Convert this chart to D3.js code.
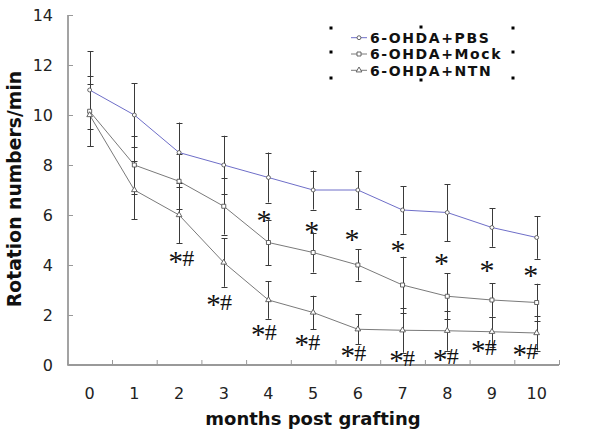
<!DOCTYPE html>
<html><head><meta charset="utf-8">
<script src="https://cdn.jsdelivr.net/npm/d3@7"></script>
<style>html,body{margin:0;padding:0;background:#fff;}svg{display:block;}</style>
</head><body>
<div id="chart"></div>
<script>
const months = [0,1,2,3,4,5,6,7,8,9,10];
const seriesNames = ["6-OHDA+PBS","6-OHDA+Mock","6-OHDA+NTN"];
const pbs    = [11.0, 10.0, 8.5, 8.0, 7.5, 7.0, 7.0, 6.2, 6.1, 5.5, 5.1];
const pbsErr = [1.55, 1.27, 1.2, 1.17, 1.0, 0.78, 0.75, 0.95, 1.14, 0.77, 0.85];
const mock    = [10.15, 8.0, 7.35, 6.35, 4.9, 4.5, 4.0, 3.2, 2.75, 2.6, 2.5];
const mockErr = [1.4, 1.17, 1.1, 1.13, 0.9, 0.8, 0.62, 1.13, 0.92, 0.67, 0.75];
const ntn    = [10.0, 7.0, 6.0, 4.1, 2.6, 2.1, 1.43, 1.39, 1.37, 1.33, 1.28];
const ntnErr = [1.23, 1.17, 1.13, 0.97, 0.75, 0.67, 0.6, 0.9, 0.8, 0.6, 0.7];
const yTicks = [0,2,4,6,8,10,12,14];
// significance marks: month position, value position
const starMonth = [3.9, 4.97, 5.87, 6.9, 7.87, 8.89, 9.87];
const starValue = [6.0, 5.56, 5.24, 4.8, 4.28, 4.0, 3.8];
const hashMonth = [2.08, 2.93, 3.93, 4.9, 5.93, 7.02, 8.0, 8.85, 9.78];
const hashValue = [4.28, 2.53, 1.33, 0.93, 0.5, 0.3, 0.36, 0.72, 0.55];

const W = 600, H = 438;
const svg = d3.select("#chart").append("svg").attr("width", W).attr("height", H);
const x = d3.scaleLinear().domain([-0.5, 10.5]).range([67.3, 559]);
const y = d3.scaleLinear().domain([0, 14]).range([365, 15]);

// axes
const yAxis = svg.append("g").attr("transform", "translate(68,0)")
  .call(d3.axisRight(y).tickValues(yTicks).tickSize(5).tickFormat(""));
yAxis.select(".domain").attr("stroke", "#999").attr("stroke-width", 1.8).attr("d", `M0,${y(14)}V${y(0)}`);
yAxis.selectAll(".tick line").attr("stroke", "#999");
svg.append("g").selectAll("text").data(yTicks).join("text")
  .attr("x", 53).attr("y", d => y(d)).attr("dy", "0.36em").attr("text-anchor", "end")
  .attr("font-family", "DejaVu Sans").attr("font-size", 16).attr("fill", "#222").text(d => d);

const xAxis = svg.append("g").attr("transform", "translate(0,365)")
  .call(d3.axisTop(x).tickValues(d3.range(-0.5, 10.6, 1)).tickSize(5).tickFormat(""));
xAxis.select(".domain").attr("stroke", "#999").attr("stroke-width", 1.8).attr("d", `M${x(-0.5)},0H${x(10.5)}`);
xAxis.selectAll(".tick line").attr("stroke", "#999");
svg.append("g").selectAll("text").data(months).join("text")
  .attr("x", d => x(d)).attr("y", 398.5).attr("text-anchor", "middle")
  .attr("font-family", "DejaVu Sans").attr("font-size", 16).attr("fill", "#222").text(d => d);

svg.append("text").attr("x", 313).attr("y", 425).attr("text-anchor", "middle")
  .attr("font-family", "DejaVu Sans").attr("font-weight", "bold").attr("font-size", 18)
  .attr("fill", "#111").text("months post grafting");
svg.append("text").attr("transform", "translate(21,189) rotate(-90)").attr("text-anchor", "middle")
  .attr("font-family", "DejaVu Sans").attr("font-weight", "bold").attr("font-size", 18.8)
  .attr("fill", "#111").text("Rotation numbers/min");

const series = [
  {name: seriesNames[0], vals: pbs, err: pbsErr, color: "#6e6ec8", shape: "circle"},
  {name: seriesNames[1], vals: mock, err: mockErr, color: "#7a7a7a", shape: "square"},
  {name: seriesNames[2], vals: ntn, err: ntnErr, color: "#7a7a7a", shape: "triangle"}
];
const line = d3.line().x((d, i) => x(months[i])).y(d => y(d));
series.forEach(s => {
  svg.append("path").attr("d", line(s.vals)).attr("fill", "none").attr("stroke", s.color).attr("stroke-width", 1);
});
// error bars
series.forEach(s => {
  const g = svg.append("g").attr("stroke", "#3a3a3a").attr("stroke-width", 1);
  s.vals.forEach((v, i) => {
    const cx = Math.round(x(months[i])) + 0.5;
    g.append("line").attr("x1", cx).attr("x2", cx).attr("y1", y(v + s.err[i])).attr("y2", y(v - s.err[i]));
    [v + s.err[i], v - s.err[i]].forEach(e => {
      g.append("line").attr("x1", cx - 3).attr("x2", cx + 3).attr("y1", Math.round(y(e)) + 0.5).attr("y2", Math.round(y(e)) + 0.5);
    });
  });
});
const symbolFor = {circle: d3.symbolCircle, square: d3.symbolSquare, triangle: d3.symbolTriangle};
const sizeFor = {circle: 12, square: 16, triangle: 14};
function marker(g, shape, cx, cy) {
  g.append("path").attr("d", d3.symbol(symbolFor[shape], sizeFor[shape])())
    .attr("transform", `translate(${cx},${cy})`).attr("fill", "#fff").attr("stroke", "#555").attr("stroke-width", 0.9);
}
series.forEach(s => {
  const g = svg.append("g");
  s.vals.forEach((v, i) => marker(g, s.shape, x(months[i]), y(v)));
});

// significance marks
svg.append("g").selectAll("text").data(starMonth).join("text")
  .attr("x", (d) => x(d)).attr("y", (d, i) => y(starValue[i]) + 15).attr("text-anchor", "middle")
  .attr("font-family", "Liberation Serif").attr("font-size", 30).attr("fill", "#111").text("*");
const hg = svg.append("g");
hashMonth.forEach((m, i) => {
  const cx = x(m), cy = y(hashValue[i]);
  hg.append("text").attr("x", cx - 7).attr("y", cy + 12.5).attr("text-anchor", "middle")
    .attr("font-family", "Liberation Serif").attr("font-size", 29).attr("fill", "#111").text("*");
  hg.append("text").attr("x", cx + 5.5).attr("y", cy + 8).attr("text-anchor", "middle")
    .attr("font-family", "Liberation Serif").attr("font-size", 24).attr("fill", "#111").text("#");
});

// legend
const rowsY = [37.7, 54, 70.3];
const lg = svg.append("g");
series.forEach((s, i) => {
  lg.append("line").attr("x1", 351).attr("x2", 367).attr("y1", rowsY[i]).attr("y2", rowsY[i])
    .attr("stroke", s.color).attr("stroke-width", 1);
  marker(lg, s.shape, 359, rowsY[i]);
  lg.append("text").attr("x", 370).attr("y", rowsY[i] + 5.3)
    .attr("font-family", "DejaVu Sans").attr("font-weight", "bold").attr("font-size", 14)
    .attr("letter-spacing", 1.6).attr("fill", "#111").text(s.name);
});
[[331,28],[421,27],[513,28],[331,52],[513,52],[331,78],[421,80],[513,78]].forEach(p => {
  lg.append("rect").attr("x", p[0] - 1.5).attr("y", p[1] - 1.5).attr("width", 3).attr("height", 3).attr("fill", "#000");
});
</script>
</body></html>
